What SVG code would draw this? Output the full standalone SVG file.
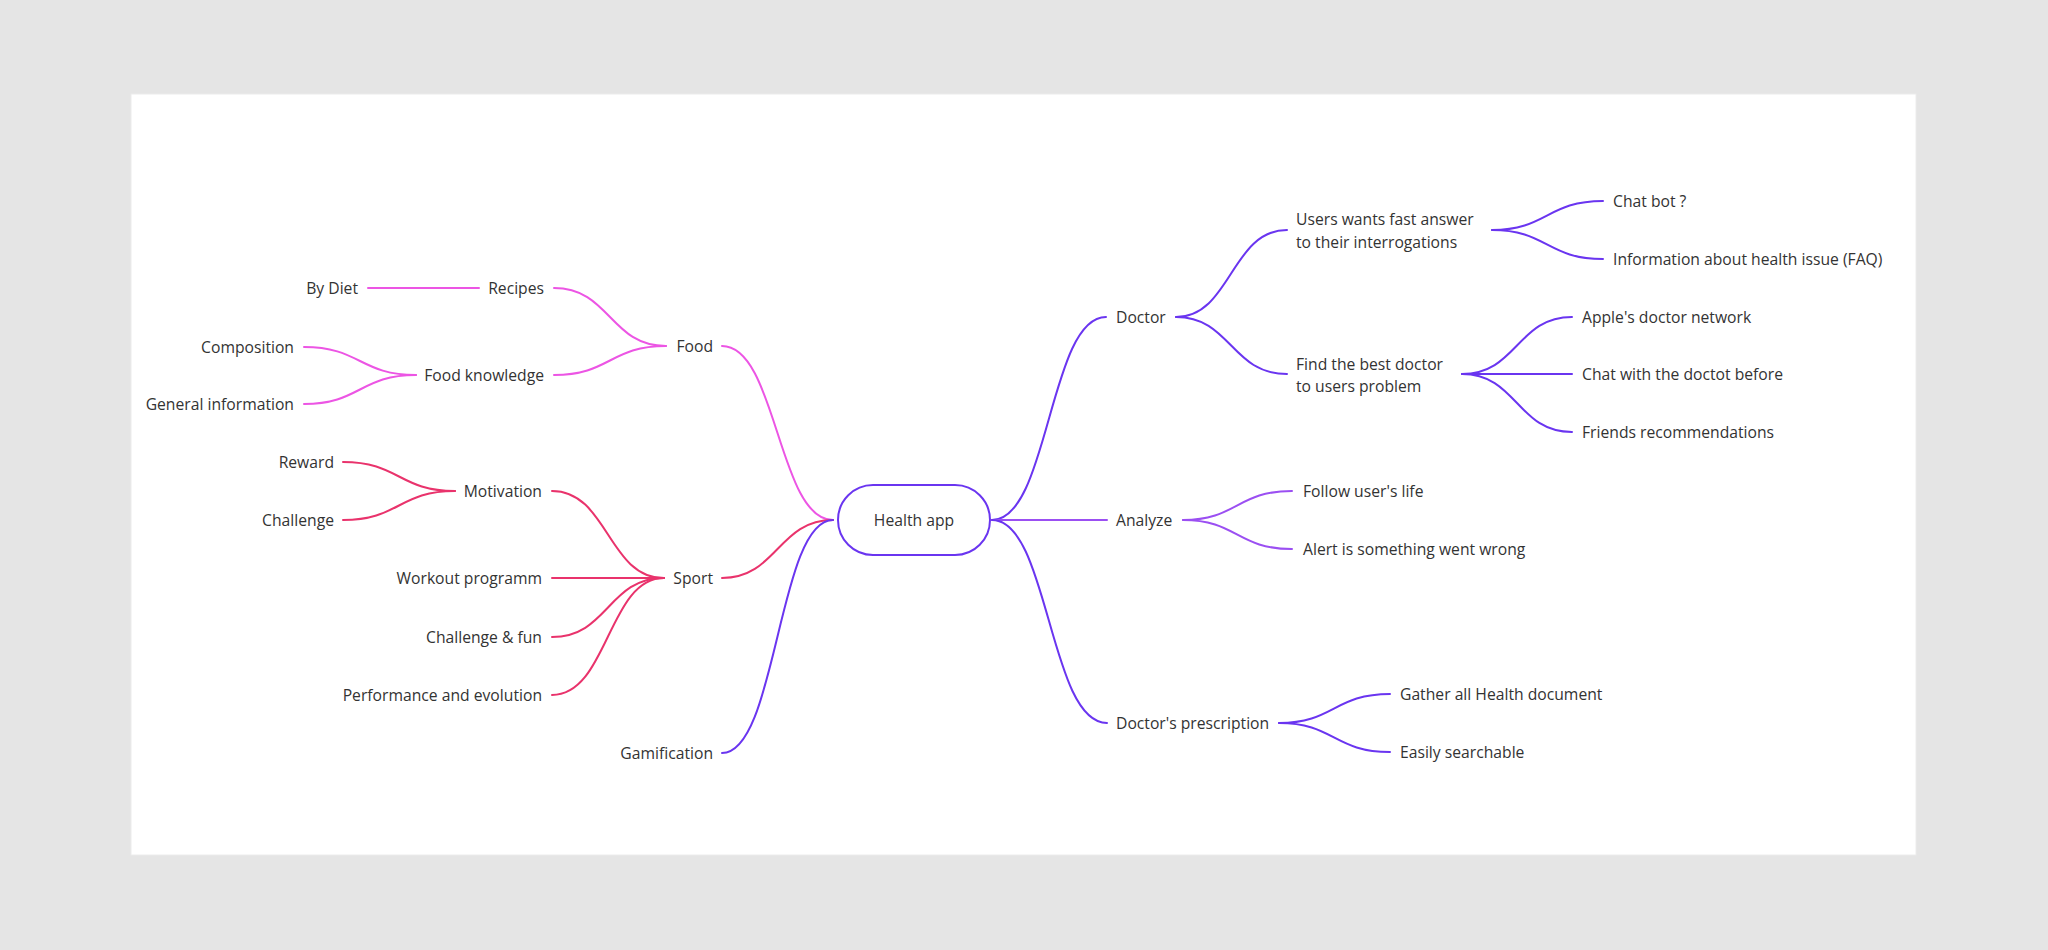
<svg xmlns="http://www.w3.org/2000/svg" width="2048" height="950" viewBox="0 0 2048 950">
<style>
text{font-family:"Open Sans","Noto Sans","Liberation Sans",sans-serif;font-size:15.7px;fill:#333;dominant-baseline:central}
.l{text-anchor:end}
.c{text-anchor:middle}
.e{fill:none;stroke-width:2;stroke-linecap:round}
.food{stroke:#ec55e4}
.sport{stroke:#e9336c}
.blue{stroke:#6a35f0}
.ana{stroke:#9b4ff2}
</style>
<rect x="0" y="0" width="2048" height="950" fill="#e5e5e5"/>
<rect x="131" y="94" width="1785" height="761" fill="#ffffff" stroke="#ececec" stroke-width="1"/>
<g id="connectors">
<path class="e food" d="M368,288 H479"/>
<path class="e food" d="M554,288 C610,288 610,346 666,346"/>
<path class="e food" d="M554,375 C610,375 610,346 666,346"/>
<path class="e food" d="M304,347 C360,347 360,375 416,375"/>
<path class="e food" d="M304,404 C360,404 360,375 416,375"/>
<path class="e food" d="M722,346 C777,346 778,520 833,520"/>
<path class="e sport" d="M343,462 C399,462 399,491 455,491"/>
<path class="e sport" d="M343,520 C399,520 399,491 455,491"/>
<path class="e sport" d="M552,491 C608,491 608,578 664,578"/>
<path class="e sport" d="M552,578 H664"/>
<path class="e sport" d="M552,637 C608,637 608,578 664,578"/>
<path class="e sport" d="M552,695 C608,695 608,578 664,578"/>
<path class="e sport" d="M722,578 C777,578 778,520 833,520"/>
<path class="e blue" d="M722,753 C777,753 778,520 833,520"/>
<path class="e blue" d="M992,520 C1049,520 1049,317 1106,317"/>
<path class="e ana" d="M992,520 H1107"/>
<path class="e blue" d="M992,520 C1049,520 1049,723 1107,723"/>
<path class="e blue" d="M1176,317 C1231,317 1231,230 1287,230"/>
<path class="e blue" d="M1176,317 C1231,317 1231,374 1287,374"/>
<path class="e blue" d="M1492,230 C1547,230 1547,201 1603,201"/>
<path class="e blue" d="M1492,230 C1547,230 1547,259 1603,259"/>
<path class="e blue" d="M1462,374 C1517,374 1517,317 1572,317"/>
<path class="e blue" d="M1462,374 H1572"/>
<path class="e blue" d="M1462,374 C1517,374 1517,432 1572,432"/>
<path class="e ana" d="M1183,520 C1237,520 1237,491 1292,491"/>
<path class="e ana" d="M1183,520 C1237,520 1237,549 1292,549"/>
<path class="e blue" d="M1279,723 C1334,723 1334,694 1390,694"/>
<path class="e blue" d="M1279,723 C1334,723 1334,752 1390,752"/>
</g>
<g id="health-app"><rect x="838" y="485" width="152" height="70" rx="35" fill="#fff" stroke="#6a35f0" stroke-width="2"/><text class="c" x="914" y="520">Health app</text></g>
<g id="food"><text class="l" x="713" y="346">Food</text></g>
<g id="recipes"><text class="l" x="544" y="288">Recipes</text></g>
<g id="by-diet"><text class="l" x="358" y="288">By Diet</text></g>
<g id="food-knowledge"><text class="l" x="544" y="375">Food knowledge</text></g>
<g id="composition"><text class="l" x="294" y="347">Composition</text></g>
<g id="general-information"><text class="l" x="294" y="404">General information</text></g>
<g id="sport"><text class="l" x="713" y="578">Sport</text></g>
<g id="motivation"><text class="l" x="542" y="491">Motivation</text></g>
<g id="reward"><text class="l" x="334" y="462">Reward</text></g>
<g id="challenge"><text class="l" x="334" y="520">Challenge</text></g>
<g id="workout"><text class="l" x="542" y="578">Workout programm</text></g>
<g id="challenge-fun"><text class="l" x="542" y="637">Challenge &amp; fun</text></g>
<g id="performance"><text class="l" x="542" y="695">Performance and evolution</text></g>
<g id="gamification"><text class="l" x="713" y="753">Gamification</text></g>
<g id="doctor"><text x="1116" y="317">Doctor</text></g>
<g id="users-wants"><text x="1296" y="219">Users wants fast answer</text><text x="1296" y="242">to their interrogations</text></g>
<g id="chat-bot"><text x="1613" y="201">Chat bot ?</text></g>
<g id="information"><text x="1613" y="259">Information about health issue (FAQ)</text></g>
<g id="find-doctor"><text x="1296" y="364">Find the best doctor</text><text x="1296" y="386">to users problem</text></g>
<g id="apple"><text x="1582" y="317">Apple's doctor network</text></g>
<g id="chat-with"><text x="1582" y="374">Chat with the doctot before</text></g>
<g id="friends"><text x="1582" y="432">Friends recommendations</text></g>
<g id="analyze"><text x="1116" y="520">Analyze</text></g>
<g id="follow"><text x="1303" y="491">Follow user's life</text></g>
<g id="alert"><text x="1303" y="549">Alert is something went wrong</text></g>
<g id="prescription"><text x="1116" y="723">Doctor's prescription</text></g>
<g id="gather"><text x="1400" y="694">Gather all Health document</text></g>
<g id="easily"><text x="1400" y="752">Easily searchable</text></g>
</svg>
